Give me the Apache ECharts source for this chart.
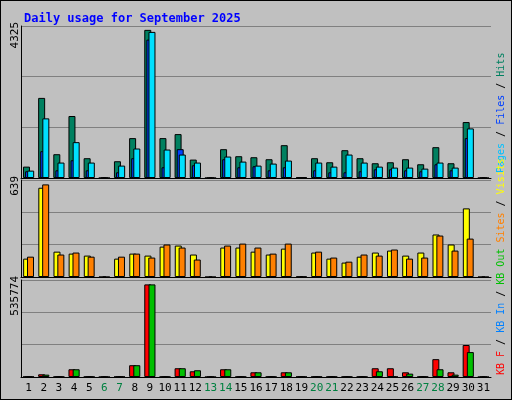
<!DOCTYPE html>
<html><head><meta charset="utf-8">
<script src="https://cdn.jsdelivr.net/npm/echarts@6/dist/echarts.min.js"></script>
<style>html,body{margin:0;padding:0;background:#c0c0c0}
#c{width:510px;height:398px;border:1px solid #000;background:#c0c0c0}</style>
</head><body><div id="c"></div>
<script>
var days=['1','2','3','4','5','6','7','8','9','10','11','12','13','14','15','16','17','18','19','20','21','22','23','24','25','26','27','28','29','30','31'];
var weekend=['6','7','13','14','20','21','27','28'];
var maxLabels=[4325,639,535774];
var hits=[324,2279,677,1764,563,0,477,1135,4215,1135,1249,524,0,820,620,591,534,934,20,563,448,791,563,420,448,534,391,877,420,1592,0];
var files=[191,763,219,505,219,0,162,563,3938,305,820,362,0,534,305,334,219,305,20,219,162,162,191,248,248,219,191,391,219,1135,0];
var pages=[210,1697,439,1020,439,0,353,839,4157,810,667,439,0,610,467,353,410,496,20,439,324,667,439,324,296,296,267,439,296,1411,0];
var visits=[121,588,167,154,141,0,121,154,141,200,207,148,0,194,194,167,148,187,3,161,121,95,134,161,174,141,161,280,214,452,0];
var sites=[134,610,148,161,134,0,134,154,128,214,194,115,0,207,220,194,154,220,3,167,128,101,148,141,181,121,128,273,174,253,0];
var kbF=[1500,15000,1500,42800,1500,0,1500,65100,511500,1500,48400,31600,0,42800,1500,26000,1500,26000,1500,1500,1500,1500,1500,48400,48400,26000,1500,98600,26000,176700,0];
var kbIn=[0,0,0,0,0,0,0,0,0,0,0,0,0,0,0,0,0,0,0,0,0,0,0,0,0,0,0,0,0,0,0];
var kbOut=[1500,13000,1500,42800,1500,0,1500,65100,511500,1500,48400,37200,0,42800,1500,26000,1500,26000,1500,1500,1500,1500,1500,31600,1500,18600,1500,42800,13000,137600,0];

var chart=echarts.init(document.getElementById('c'));
var font='DejaVu Sans Mono';
var grids=[{left:20,width:470,top:25,height:152},{left:20,width:470,top:179,height:97},{left:20,width:470,top:279,height:97}];
var xAxes=[],yAxes=[];
for(var i=0;i<3;i++){
  xAxes.push({type:'category',gridIndex:i,data:days,axisTick:{show:false},
    axisLine:{lineStyle:{color:'#000',width:1}},
    axisLabel:{show:i==2,fontFamily:font,fontSize:11,margin:6,interval:0,
      color:function(v){return weekend.indexOf(v)>=0?'#008040':'#000';}}});
  yAxes.push({type:'value',gridIndex:i,min:0,max:maxLabels[i],interval:maxLabels[i]/3,
    axisLine:{show:true,lineStyle:{color:'#000'}},axisTick:{show:false},axisLabel:{show:false},
    splitLine:{lineStyle:{color:'#808080',width:1}},
    name:String(maxLabels[i]),nameLocation:'end',nameRotate:90,nameGap:4,
    nameTextStyle:{fontFamily:font,fontSize:11,color:'#000',align:'right',verticalAlign:'bottom'}});
}
function bar(name,data,idx,color,w,gap){
  return {name:name,type:'bar',xAxisIndex:idx,yAxisIndex:idx,data:data,barWidth:w,barGap:gap,
    itemStyle:{color:color,borderColor:'#000',borderWidth:1},animation:false};
}
var series=[
  bar('Hits',hits,0,'#008060',7,'-70%'),bar('Files',files,0,'#0040ff',7,'-70%'),bar('Pages',pages,0,'#00e0ff',7,'-70%'),
  bar('Visits',visits,1,'#ffff00',7,'-45%'),bar('Sites',sites,1,'#ff8000',7,'-45%'),
  bar('KB F',kbF,2,'#ff0000',7,'-70%'),bar('KB In',kbIn,2,'#0080ff',7,'-70%'),bar('KB Out',kbOut,2,'#00c000',7,'-70%')
];
function st(c){return {fontFamily:font,fontSize:10,fill:c};}
chart.setOption({
  animation:false,
  backgroundColor:'#c0c0c0',
  title:{text:'Daily usage for September 2025',left:18,top:7,textStyle:{fontFamily:font,fontSize:12,fontWeight:'bold',color:'#0000ff'}},
  grid:grids,xAxis:xAxes,yAxis:yAxes,series:series,
  graphic:[
    {type:'text',rotation:Math.PI/2,x:495,y:172,style:{rich:{a:st('#00c0ff'),b:st('#000'),c:st('#0040ff'),d:st('#008060')},
      text:'{a|Pages}{b| / }{c|Files}{b| / }{d|Hits}',verticalAlign:'top',font:'10px '+font}},
    {type:'text',rotation:Math.PI/2,x:495,y:374,style:{rich:{r:st('#ff0000'),b:st('#000'),u:st('#0080ff'),g:st('#00c000'),o:st('#ff8000'),y:st('#ffff00')},
      text:'{r|KB F}{b| / }{u|KB In}{b| / }{g|KB Out}{b| }{o|Sites}{b| / }{y|Visits}',verticalAlign:'top',font:'10px '+font}}
  ]
});
</script></body></html>
